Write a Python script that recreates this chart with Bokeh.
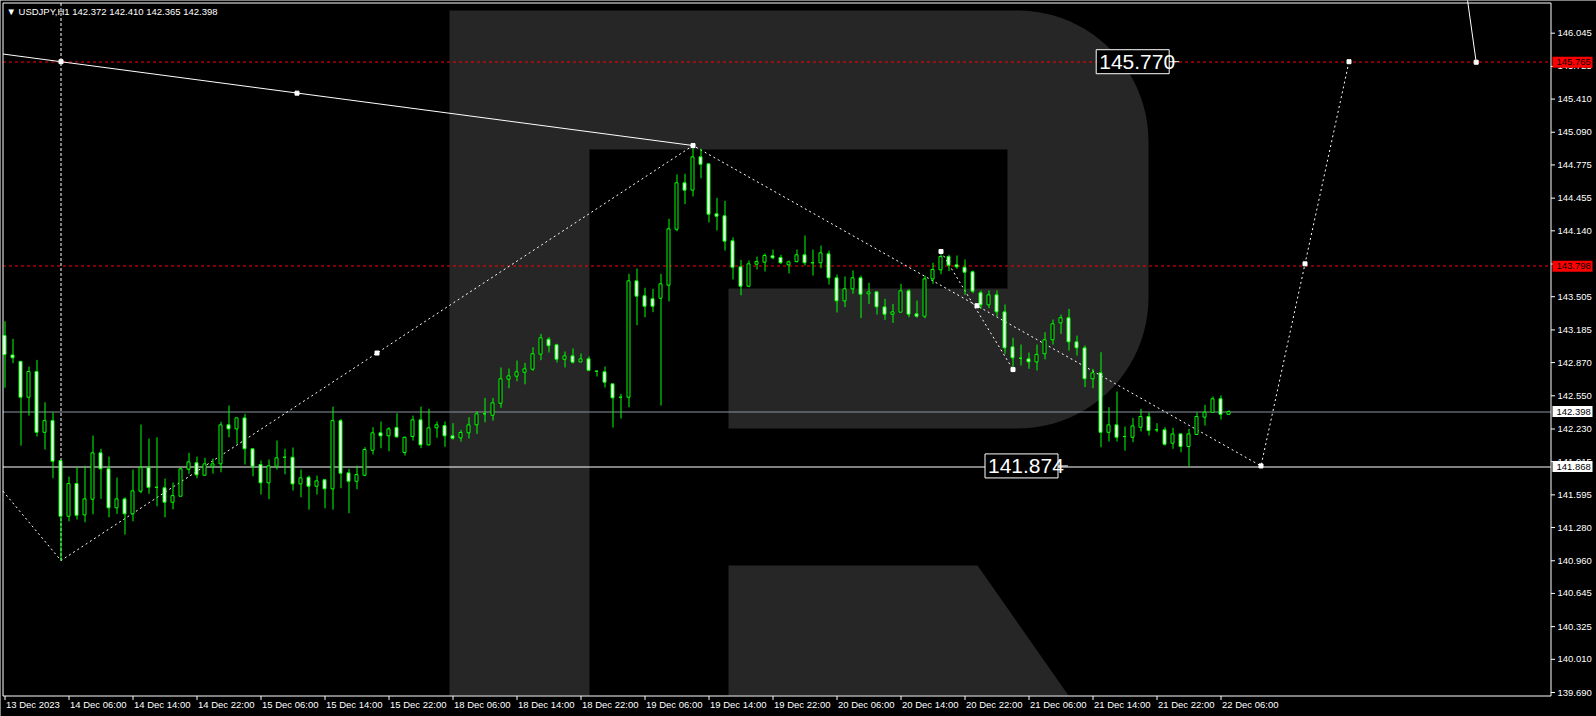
import numpy as np
from bokeh.plotting import figure
from bokeh.models import ColumnDataSource, Range1d
from bokeh.embed import file_html
from bokeh.resources import INLINE
from bokeh.core.properties import value

# ---------------- data (USDJPY H1, bar 0 = 13 Dec 2023 22:00) ----------------
opens = [
143.131, 142.944, 142.882, 142.536, 142.784, 142.198, 142.311, 141.926, 141.389, 141.704,
141.402, 141.553, 142.000, 141.846, 141.470, 141.556, 141.412, 141.630, 141.858, 141.668,
141.663, 141.524, 141.582, 141.842, 141.904, 141.784, 141.871, 141.894, 142.270, 142.231,
142.337, 142.039, 141.887, 141.711, 141.871, 141.958, 141.958, 141.701, 141.765, 141.678,
141.740, 141.653, 142.311, 141.807, 141.726, 141.784, 142.025, 142.193, 142.164, 142.244,
142.003, 142.157, 142.318, 142.077, 142.241, 142.263, 142.164, 142.144, 142.193, 142.270,
142.376, 142.362, 142.478, 142.710, 142.739, 142.777, 142.806, 142.951, 143.095, 143.041,
142.902, 142.935, 142.877, 142.906, 142.787, 142.781, 142.665, 142.536, 142.536, 143.658,
143.514, 143.485, 143.490, 143.616, 144.155, 144.603, 144.532, 144.853, 144.786, 144.304,
144.285, 144.044, 143.793, 143.606, 143.818, 143.838, 143.899, 143.883, 143.812, 143.844,
143.909, 143.832, 143.832, 143.918, 143.687, 143.465, 143.581, 143.687, 143.533, 143.552,
143.407, 143.336, 143.356, 143.562, 143.340, 143.317, 143.677, 143.764, 143.892, 143.812,
143.789, 143.745, 143.543, 143.427, 143.523, 143.359, 143.022, 142.912, 142.906, 142.877,
142.955, 143.090, 143.253, 143.302, 143.070, 143.012, 142.714, 142.771, 142.198, 142.270,
142.157, 142.150, 142.247, 142.350, 142.222, 142.222, 142.093, 142.183, 142.061, 142.177,
142.344, 142.391, 142.521, 142.372]

highs = [
143.268, 143.099, 142.882, 142.832, 142.896, 142.488, 142.391, 141.926, 141.771, 141.861,
141.875, 142.167, 142.039, 141.964, 141.762, 141.572, 141.839, 142.273, 142.138, 142.150,
141.752, 141.714, 141.861, 142.000, 141.964, 141.952, 141.945, 142.299, 142.456, 142.337,
142.376, 142.039, 141.926, 141.936, 142.119, 142.039, 142.051, 141.839, 141.781, 141.781,
141.749, 142.446, 142.327, 141.846, 141.877, 142.054, 142.247, 142.302, 142.247, 142.382,
142.157, 142.359, 142.446, 142.424, 142.302, 142.302, 142.286, 142.222, 142.343, 142.401,
142.530, 142.530, 142.823, 142.813, 142.890, 142.868, 143.018, 143.147, 143.115, 143.051,
142.977, 143.006, 142.957, 142.929, 142.794, 142.832, 142.665, 142.569, 143.726, 143.777,
143.591, 143.581, 143.726, 144.256, 144.683, 144.690, 144.962, 144.931, 144.786, 144.458,
144.429, 144.076, 143.860, 143.854, 143.892, 143.921, 143.960, 143.909, 143.854, 143.960,
144.095, 143.960, 143.998, 143.950, 143.719, 143.700, 143.758, 143.709, 143.639, 143.552,
143.485, 143.436, 143.629, 143.581, 143.468, 143.709, 143.832, 143.941, 143.909, 143.902,
143.864, 143.758, 143.565, 143.565, 143.565, 143.430, 143.109, 143.044, 142.967, 143.044,
143.163, 143.285, 143.333, 143.388, 143.130, 143.035, 142.810, 142.970, 142.440, 142.591,
142.254, 142.337, 142.424, 142.391, 142.286, 142.247, 142.241, 142.183, 142.231, 142.391,
142.463, 142.543, 142.553, 142.410]

lows = [
142.627, 142.864, 142.070, 142.359, 142.157, 142.032, 141.755, 140.962, 141.340, 141.357,
141.331, 141.408, 141.556, 141.379, 141.412, 141.212, 141.340, 141.611, 141.605, 141.485,
141.379, 141.456, 141.582, 141.798, 141.755, 141.784, 141.800, 141.813, 142.150, 142.087,
141.887, 141.775, 141.598, 141.553, 141.839, 141.794, 141.637, 141.572, 141.453, 141.598,
141.466, 141.453, 141.659, 141.418, 141.649, 141.775, 141.984, 142.044, 142.015, 142.145,
141.974, 142.118, 142.045, 142.070, 142.145, 142.058, 142.128, 142.109, 142.138, 142.183,
142.295, 142.311, 142.434, 142.623, 142.690, 142.661, 142.791, 142.893, 142.967, 142.871,
142.823, 142.861, 142.871, 142.787, 142.736, 142.630, 142.244, 142.331, 142.440, 143.230,
143.307, 143.356, 142.456, 143.459, 144.136, 144.397, 144.471, 144.647, 144.220, 144.143,
143.950, 143.671, 143.519, 143.597, 143.767, 143.748, 143.866, 143.822, 143.729, 143.835,
143.806, 143.709, 143.780, 143.622, 143.353, 143.404, 143.533, 143.298, 143.433, 143.333,
143.282, 143.253, 143.356, 143.307, 143.302, 143.298, 143.629, 143.722, 143.751, 143.774,
143.523, 143.539, 143.388, 143.394, 143.317, 142.955, 142.777, 142.842, 142.810, 142.794,
142.902, 143.044, 143.147, 142.986, 142.938, 142.633, 142.623, 142.054, 142.109, 142.109,
142.022, 142.103, 142.206, 142.167, 142.199, 142.070, 142.039, 142.006, 141.868, 142.177,
142.263, 142.391, 142.321, 142.365]

closes = [
142.947, 142.916, 142.536, 142.784, 142.198, 142.311, 141.919, 141.389, 141.704, 141.398,
141.556, 142.000, 141.846, 141.470, 141.556, 141.412, 141.634, 141.858, 141.668, 141.668,
141.524, 141.588, 141.846, 141.913, 141.788, 141.894, 141.894, 142.270, 142.231, 142.337,
142.039, 141.871, 141.711, 141.875, 141.952, 141.958, 141.701, 141.759, 141.678, 141.730,
141.653, 142.311, 141.803, 141.726, 141.791, 142.032, 142.193, 142.164, 142.231, 142.154,
142.150, 142.318, 142.077, 142.241, 142.270, 142.164, 142.141, 142.196, 142.270, 142.376,
142.376, 142.482, 142.714, 142.742, 142.781, 142.810, 142.955, 143.109, 143.032, 142.902,
142.935, 142.874, 142.906, 142.796, 142.787, 142.681, 142.530, 142.536, 143.658, 143.510,
143.413, 143.413, 143.629, 144.159, 144.603, 144.532, 144.853, 144.782, 144.300, 144.281,
144.040, 143.789, 143.606, 143.822, 143.844, 143.902, 143.880, 143.832, 143.841, 143.909,
143.832, 143.832, 143.928, 143.687, 143.465, 143.581, 143.687, 143.529, 143.552, 143.407,
143.336, 143.359, 143.562, 143.336, 143.317, 143.677, 143.767, 143.892, 143.809, 143.793,
143.741, 143.558, 143.427, 143.523, 143.359, 143.012, 142.916, 142.912, 142.877, 142.948,
143.090, 143.244, 143.302, 143.070, 143.012, 142.714, 142.771, 142.198, 142.270, 142.150,
142.157, 142.260, 142.350, 142.215, 142.222, 142.083, 142.183, 142.061, 142.183, 142.350,
142.391, 142.521, 142.372, 142.398]

tick_bars = [0, 8, 16, 24, 32, 40, 48, 56, 64, 72, 80, 88, 96, 104, 112, 120, 128, 136, 144, 152]
tick_labels = ["13 Dec 2023", "14 Dec 06:00", "14 Dec 14:00", "14 Dec 22:00", "15 Dec 06:00",
               "15 Dec 14:00", "15 Dec 22:00", "18 Dec 06:00", "18 Dec 14:00", "18 Dec 22:00",
               "19 Dec 06:00", "19 Dec 14:00", "19 Dec 22:00", "20 Dec 06:00", "20 Dec 14:00",
               "20 Dec 22:00", "21 Dec 06:00", "21 Dec 14:00", "21 Dec 22:00", "22 Dec 06:00"]
price_ticks = [146.045, 145.725, 145.410, 145.090, 144.775, 144.455, 144.140, 143.820, 143.505,
               143.185, 142.870, 142.550, 142.230, 141.915, 141.595, 141.280, 140.960, 140.645,
               140.325, 140.010, 139.690]

# horizontal levels
red_levels = [145.765, 143.798]
bid_price = 142.398
support_price = 141.868

# forecast / analysis drawings (bar index, price)
zigzag_x = [-0.25, 7, 86, 157, 168]
zigzag_y = [141.631, 140.962, 144.962, 141.874, 145.770]
trend_x = [-0.25, 86]
trend_y = [145.844, 144.962]
steep_x = [117, 126]
steep_y = [143.941, 142.803]
vline_bar = 7
vline_low = 140.962
topline_x = [182.75, 183.9]
topline_y = [146.400, 145.765]
marker_x = [7, 36.5, 86, 46.5, 121.5, 117, 126, 157, 162.5, 168, 183.9]
marker_y = [145.770, 145.467, 144.962, 142.962, 143.418, 143.941, 142.803, 141.874, 143.822, 145.770, 145.765]
box_text = ["145.770", "141.874"]
box_left = [136.4, 122.5]
box_price = [145.770, 141.874]

header = "\u25bc USDJPY,H1  142.372 142.410 142.365 142.398"

# ---------------- canvas / scales ----------------
W, H = 1596, 716
PXB = 8.0          # pixels per bar
PXP = 103.75       # pixels per price unit
X0 = -0.5625       # bar value at the left canvas edge
YTOP = 146.360     # price at the top canvas edge

def px2x(px):
    return X0 + px / PXB

def py2y(py):
    return YTOP - py / PXP

def snap(pr):
    # move a horizontal level to the nearest pixel centre so the 1px line stays crisp
    py = (YTOP - pr) * PXP
    return py2y(np.floor(py) + 0.5)

p = figure(width=W, height=H,
           x_range=Range1d(X0, X0 + W / PXB), y_range=Range1d(YTOP - H / PXP, YTOP),
           output_backend="svg", toolbar_location=None,
           x_axis_location=None, y_axis_location=None,
           background_fill_color="black", border_fill_color="black",
           min_border=0, min_border_left=0, min_border_right=0, min_border_top=0, min_border_bottom=0)
p.outline_line_color = None
p.grid.visible = False

FL, FR, FT, FB = 2.5, 1550.5, 2.5, 695.5   # chart frame in pixels

# watermark "R"
pts = [(449, 10)]
for a in np.linspace(np.pi / 2, 0, 24):
    pts.append((1017 + 131 * np.cos(a), 141 - 131 * np.sin(a)))
for a in np.linspace(0, -np.pi / 2, 24):
    pts.append((1017 + 131 * np.cos(a), 297 - 131 * np.sin(a)))
pts += [(728, 428), (728, 288), (1007, 288), (1007, 149), (589, 149), (589, 695), (449, 695)]
p.patch([px2x(a) for a, b in pts], [py2y(b) for a, b in pts], fill_color="#262626", line_color=None)
leg = [(728, 565), (977, 565), (1068, 695), (728, 695)]
p.patch([px2x(a) for a, b in leg], [py2y(b) for a, b in leg], fill_color="#262626", line_color=None)

# horizontal levels (stop at the price scale)
lx0, lx1 = px2x(FL), px2x(FR)
p.segment(x0=[lx0] * 2, y0=[snap(v) for v in red_levels], x1=[lx1] * 2, y1=[snap(v) for v in red_levels],
          line_color="#ff0000", line_dash="3 3", line_width=1)
p.segment(x0=[lx0], y0=[snap(bid_price)], x1=[lx1], y1=[snap(bid_price)], line_color="#8a949e", line_width=1)
p.segment(x0=[lx0], y0=[snap(support_price)], x1=[lx1], y1=[snap(support_price)], line_color="white", line_width=1)

# analysis drawings
p.segment(x0=[vline_bar], y0=[py2y(FT)], x1=[vline_bar], y1=[vline_low],
          line_color="white", line_dash="3 2", line_width=1)
p.line(zigzag_x, zigzag_y, line_color="white", line_dash="2 3", line_width=1)
p.line(steep_x, steep_y, line_color="white", line_dash="2 3", line_width=1)
p.line(trend_x, trend_y, line_color="white", line_width=1)
p.line(topline_x, topline_y, line_color="white", line_width=1)

# candles
n = len(opens)
idx = list(range(n))
body_top = [max(o, c) for o, c in zip(opens, closes)]
body_bot = [min(o, c) for o, c in zip(opens, closes)]
fills = ["black" if c >= o else "white" for o, c in zip(opens, closes)]
src = ColumnDataSource(dict(x=idx, o=opens, h=highs, l=lows, c=closes,
                            left=[i - 2 / PXB for i in idx], right=[i + 1 / PXB for i in idx],
                            top=body_top, bot=body_bot, fill=fills))
p.segment(x0="x", y0="l", x1="x", y1="h", source=src, line_color="#00ff00", line_width=1)
p.quad(left="left", right="right", top="top", bottom="bot", source=src,
       fill_color="fill", line_color="#00ff00", line_width=1)

p.scatter(marker_x, marker_y, marker="square", size=4, color="white")

# text boxes with forecast targets
bw = 73 / PXB
bh = 12 / PXP
bsrc = ColumnDataSource(dict(l=box_left, r=[b + bw for b in box_left],
                             b=[y - bh for y in box_price], t=[y + bh for y in box_price],
                             y=box_price, txt=box_text,
                             dx1=[b + bw + 10 / PXB for b in box_left]))
p.quad(left="l", right="r", bottom="b", top="t", source=bsrc, fill_color="black", line_color="white", line_width=1)
p.segment(x0="r", y0="y", x1="dx1", y1="y", source=bsrc, line_color="white", line_width=1)
p.text(x="l", y="y", text="txt", source=bsrc, x_offset=3, text_color="white",
       text_font=value("Liberation Sans"), text_font_size="21px", text_baseline="middle")

# chart frame
p.line([px2x(FL), px2x(FR), px2x(FR), px2x(FL), px2x(FL)],
       [py2y(FT), py2y(FT), py2y(FB), py2y(FB), py2y(FT)], line_color="white", line_width=1)

# price scale
p.segment(x0=[px2x(FR)] * len(price_ticks), y0=price_ticks,
          x1=[px2x(FR + 4)] * len(price_ticks), y1=price_ticks, line_color="white", line_width=1)
p.text(x=[px2x(1557)] * len(price_ticks), y=price_ticks, text=[f"{v:.3f}" for v in price_ticks],
       text_color="white", text_font=value("Liberation Sans"), text_font_size="9.5px",
       text_baseline="middle", text_align="left")

# time scale
p.segment(x0=tick_bars, y0=[py2y(FB)] * len(tick_bars), x1=tick_bars, y1=[py2y(FB + 4)] * len(tick_bars),
          line_color="white", line_width=1)
p.text(x=tick_bars, y=[py2y(704)] * len(tick_bars), text=tick_labels, x_offset=1,
       text_color="white", text_font=value("Liberation Sans"), text_font_size="9.5px",
       text_baseline="middle", text_align="left")

# price tags on the scale
tag_prices = [red_levels[0], red_levels[1], bid_price, support_price]
tag_bg = ["#ff0000", "#ff0000", "white", "white"]
tsrc = ColumnDataSource(dict(l=[px2x(1552)] * 4, r=[px2x(1592)] * 4,
                             b=[v - 5.5 / PXP for v in tag_prices], t=[v + 5.5 / PXP for v in tag_prices],
                             y=tag_prices, txt=[f"{v:.3f}" for v in tag_prices], bg=tag_bg,
                             x=[px2x(1556)] * 4))
p.quad(left="l", right="r", bottom="b", top="t", source=tsrc, fill_color="bg", line_color=None)
p.text(x="x", y="y", text="txt", source=tsrc, text_color="black",
       text_font=value("Liberation Sans"), text_font_size="9.5px", text_baseline="middle")

# header
p.text(x=[px2x(6)], y=[py2y(11)], text=[header], text_color="white",
       text_font=value("Liberation Sans"), text_font_size="9.5px", text_baseline="middle")

open("out.html", "w").write(file_html(p, INLINE))
